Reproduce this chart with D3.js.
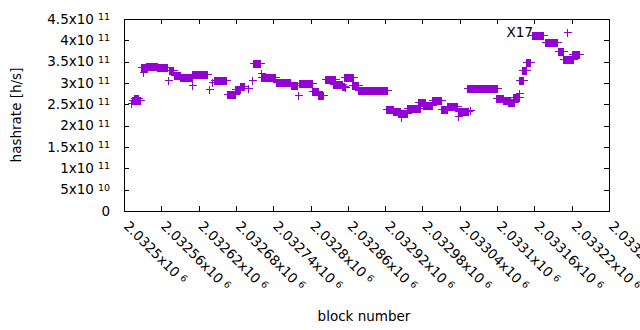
<!DOCTYPE html>
<html>
<head>
<meta charset="utf-8">
<script src="https://d3js.org/d3.v7.min.js"></script>
<style>
body { margin: 0; background: #fff; }
svg { display: block; font-family: "DejaVu Sans", sans-serif; }
</style>
</head>
<body>
<svg width="640" height="330"></svg>
<script>
// each run = consecutive blocks that share the same hashrate estimate (x10^11 h/s)
var runStart = [2032511, 2032513, 2032516, 2032521, 2032531, 2032527, 2032535, 2032553, 2032571, 2032572,
                2032580, 2032590, 2032609, 2032609, 2032637, 2032642, 2032645, 2032666, 2032678, 2032686,
                2032699, 2032706, 2032707, 2032720, 2032720, 2032744, 2032769, 2032780, 2032781, 2032802,
                2032812, 2032823, 2032836, 2032850, 2032855, 2032854, 2032867, 2032876, 2032921, 2032933,
                2032941, 2032945, 2032955, 2032973, 2032981, 2032995, 2033010, 2033019, 2033037, 2033037,
                2033056, 2033052, 2033098, 2033109, 2033117, 2033126, 2033135, 2033135, 2033140, 2033146,
                2033156, 2033177, 2033198, 2033212, 2033206, 2033220];
var runEnd   = [2032511, 2032519, 2032523, 2032526, 2032531, 2032537, 2032553, 2032569, 2032571, 2032579,
                2032590, 2032609, 2032609, 2032633, 2032637, 2032642, 2032664, 2032678, 2032687, 2032693,
                2032699, 2032706, 2032719, 2032720, 2032743, 2032767, 2032778, 2032780, 2032802, 2032812,
                2032820, 2032839, 2032850, 2032854, 2032855, 2032868, 2032876, 2032923, 2032933, 2032944,
                2032955, 2032945, 2032976, 2032984, 2032995, 2033010, 2033019, 2033035, 2033037, 2033053,
                2033056, 2033100, 2033109, 2033121, 2033127, 2033135, 2033135, 2033142, 2033146, 2033153,
                2033174, 2033196, 2033206, 2033212, 2033222, 2033232];
var runRate  = [2.52, 2.60, 2.66, 2.60, 3.26, 3.37, 3.40, 3.37, 3.07, 3.30,
                3.19, 3.13, 2.95, 3.21, 2.86, 3.02, 3.07, 2.75, 2.85, 2.92,
                2.88, 3.07, 3.48, 3.24, 3.15, 3.02, 2.95, 2.72, 2.99, 2.81,
                2.73, 3.09, 2.98, 2.94, 2.90, 3.14, 2.96, 2.84, 2.39, 2.34,
                2.30, 2.20, 2.41, 2.55, 2.48, 2.60, 2.39, 2.47, 2.23, 2.34,
                2.36, 2.88, 2.64, 2.60, 2.56, 2.67, 2.76, 3.07, 3.30, 3.49,
                4.12, 3.95, 3.76, 4.19, 3.56, 3.68];

var xTicks = [2032500, 2032560, 2032620, 2032680, 2032740, 2032800, 2032860,
              2032920, 2032980, 2033040, 2033100, 2033160, 2033220, 2033280];
var yTicks = [0, 5e10, 1e11, 1.5e11, 2e11, 2.5e11, 3e11, 3.5e11, 4e11, 4.5e11];

var plotLeft = 124, plotRight = 609, plotTop = 19, plotBottom = 211;
var tickLen = 5;
var armLen = 3.5;   // half size of a "+" point
var purple = "#9400d3";
var fontSize = "13.5px";

var svg = d3.select("svg");

var x = d3.scaleLinear().domain([2032500, 2033280]).range([plotLeft, plotRight]);
var y = d3.scaleLinear().domain([0, 4.5e11]).range([plotBottom, plotTop]);

// writes "mx10" with a small raised exponent after it
function sciText(sel, mant, exp) {
    sel.append("tspan").text(mant + "x10");
    sel.append("tspan").attr("dx", 4).attr("dy", -3.5).style("font-size", "9.5px").text(exp);
}

// ticks on all four sides, pointing inward
var tg = svg.append("g").attr("stroke", "#000").attr("stroke-width", 1).attr("shape-rendering", "crispEdges");
xTicks.forEach(function(t) {
    var px = Math.round(x(t)) + 0.5;
    tg.append("line").attr("x1", px).attr("x2", px).attr("y1", plotBottom).attr("y2", plotBottom - tickLen);
    tg.append("line").attr("x1", px).attr("x2", px).attr("y1", plotTop).attr("y2", plotTop + tickLen);
});
yTicks.forEach(function(t) {
    var py = Math.round(y(t)) + 0.5;
    tg.append("line").attr("x1", plotLeft).attr("x2", plotLeft + tickLen).attr("y1", py).attr("y2", py);
    tg.append("line").attr("x1", plotRight).attr("x2", plotRight - tickLen).attr("y1", py).attr("y2", py);
});

// y tick labels
yTicks.forEach(function(t) {
    var txt = svg.append("text")
        .attr("x", 110)
        .attr("y", y(t) + 4.5)
        .attr("text-anchor", "end")
        .style("font-size", fontSize)
        .attr("fill", "#000");
    if (t === 0) {
        txt.text("0");
    } else {
        var exp = Math.floor(Math.log10(t));
        var mant = +(t / Math.pow(10, exp)).toFixed(2);
        sciText(txt, mant, exp);
    }
});

// x tick labels, rotated 45 degrees
xTicks.forEach(function(t) {
    var txt = svg.append("text")
        .attr("transform", "translate(" + (x(t) - 1) + ",227) rotate(45)")
        .style("font-size", fontSize)
        .attr("fill", "#000");
    sciText(txt, +(t / 1e6).toFixed(5), 6);
});

// data: each run of points drawn as the union of its "+" marks
var pts = svg.append("g").attr("fill", purple).attr("shape-rendering", "crispEdges");
runStart.forEach(function(s, i) {
    var x0 = Math.round(x(s)), x1 = Math.round(x(runEnd[i]));
    var py = Math.round(y(runRate[i] * 1e11));
    // vertical arms
    pts.append("rect")
        .attr("x", x0).attr("y", py - armLen)
        .attr("width", x1 - x0 + 1).attr("height", armLen * 2 + 1);
    // horizontal arms
    pts.append("rect")
        .attr("x", x0 - armLen).attr("y", py)
        .attr("width", x1 - x0 + 1 + armLen * 2).attr("height", 1);
});

// frame
svg.append("rect")
    .attr("x", plotLeft + 0.5).attr("y", plotTop + 0.5)
    .attr("width", plotRight - plotLeft).attr("height", plotBottom - plotTop)
    .attr("fill", "none").attr("stroke", "#000").attr("stroke-width", 1)
    .attr("shape-rendering", "crispEdges");

svg.append("text")
    .attr("x", 533).attr("y", 37)
    .attr("text-anchor", "end")
    .style("font-size", fontSize)
    .attr("fill", "#000")
    .text("X17");

svg.append("text")
    .attr("transform", "translate(21,115) rotate(-90)")
    .attr("text-anchor", "middle")
    .style("font-size", fontSize)
    .attr("fill", "#000")
    .text("hashrate [h/s]");

svg.append("text")
    .attr("x", 364).attr("y", 321)
    .attr("text-anchor", "middle")
    .style("font-size", fontSize)
    .attr("fill", "#000")
    .text("block number");
</script>
</body>
</html>
